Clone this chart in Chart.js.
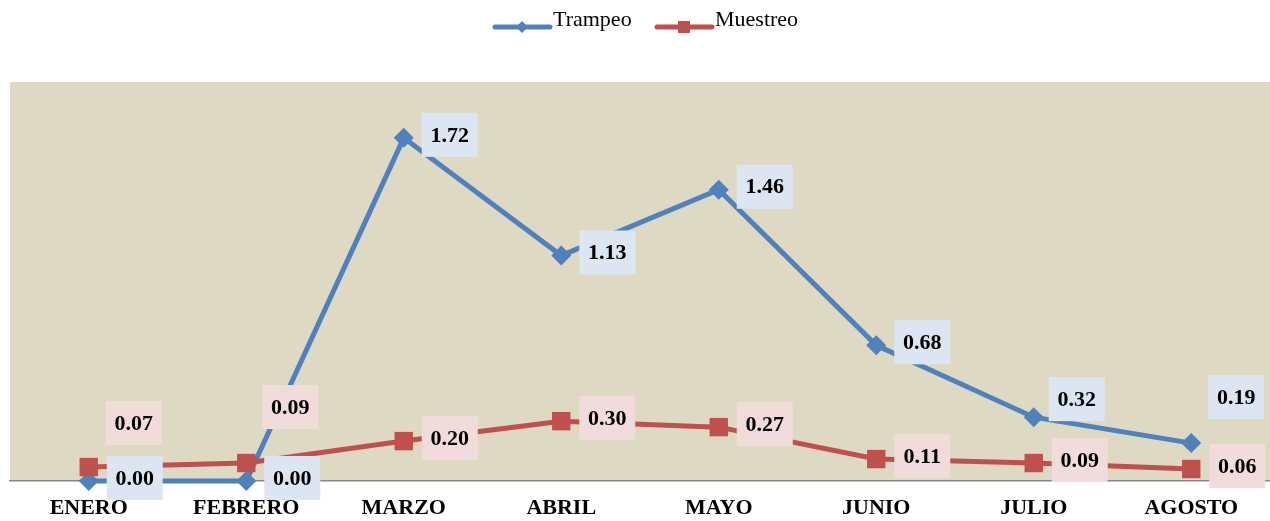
<!DOCTYPE html>
<html lang="es">
<head>
    <meta charset="UTF-8">
    <title>Trampeo vs Muestreo</title>
    <script src="https://cdn.jsdelivr.net/npm/chart.js"></script>
    <style>
        html, body { margin: 0; padding: 0; background: #fff; }
        .chart-box { width: 1270px; height: 521px; }
    </style>
</head>
<body>
    <div class="chart-box">
        <canvas id="lineChart"></canvas>
    </div>

    <script>
        const months = ['ENERO', 'FEBRERO', 'MARZO', 'ABRIL', 'MAYO', 'JUNIO', 'JULIO', 'AGOSTO'];
        const trampeo = [0.00, 0.00, 1.72, 1.13, 1.46, 0.68, 0.32, 0.19];
        const muestreo = [0.07, 0.09, 0.20, 0.30, 0.27, 0.11, 0.09, 0.06];

        const blue = '#4F81BD';
        const red = '#C0504D';
        const serif = '"Liberation Serif", "DejaVu Serif", serif';

        // label box nudges (dx, dy from the point) where the default spot is crowded
        const labelNudge = {
            0: { 6: [43, -18], 7: [45, -46] },
            1: { 0: [45, -44], 1: [44, -56] }
        };
        const labelBg = ['#DCE6F2', '#F2DCDB'];

        const areaBg = {
            id: 'areaBg',
            beforeDraw(chart) {
                const { ctx, chartArea: a } = chart;
                ctx.save();
                ctx.fillStyle = '#DDD9C3';
                ctx.fillRect(a.left, a.top, a.right - a.left, a.bottom - a.top);
                ctx.restore();
            }
        };

        const valueLabels = {
            id: 'valueLabels',
            afterDatasetsDraw(chart) {
                const ctx = chart.ctx;
                ctx.save();
                ctx.font = 'bold 22px ' + serif;
                ctx.textAlign = 'center';
                ctx.textBaseline = 'middle';
                chart.data.datasets.forEach((ds, di) => {
                    chart.getDatasetMeta(di).data.forEach((pt, i) => {
                        const n = (labelNudge[di] && labelNudge[di][i]) || [46, -3];
                        const cx = pt.x + n[0], cy = pt.y + n[1];
                        ctx.fillStyle = labelBg[di];
                        ctx.fillRect(cx - 28, cy - 22, 56, 44);
                        ctx.fillStyle = '#000';
                        ctx.fillText(ds.data[i].toFixed(2), cx, cy + 1);
                    });
                });
                ctx.restore();
            }
        };

        const lineLegend = {
            id: 'lineLegend',
            afterDraw(chart) {
                const ctx = chart.ctx;
                const items = [
                    { x: 495, label: 'Trampeo', color: blue, shape: 'diamond' },
                    { x: 657, label: 'Muestreo', color: red, shape: 'square' }
                ];
                ctx.save();
                ctx.font = '22px ' + serif;
                ctx.textBaseline = 'middle';
                items.forEach(it => {
                    const y = 27;
                    ctx.strokeStyle = it.color;
                    ctx.lineWidth = 5;
                    ctx.lineCap = 'round';
                    ctx.beginPath();
                    ctx.moveTo(it.x, y);
                    ctx.lineTo(it.x + 55, y);
                    ctx.stroke();
                    ctx.fillStyle = it.color;
                    const mx = it.x + 27;
                    if (it.shape === 'diamond') {
                        ctx.beginPath();
                        ctx.moveTo(mx, y - 6);
                        ctx.lineTo(mx + 6, y);
                        ctx.lineTo(mx, y + 6);
                        ctx.lineTo(mx - 6, y);
                        ctx.closePath();
                        ctx.fill();
                    } else {
                        ctx.fillRect(mx - 6, y - 6, 12, 12);
                    }
                    ctx.fillStyle = '#000';
                    ctx.fillText(it.label, it.x + 58, y - 7);
                });
                ctx.restore();
            }
        };

        new Chart(document.getElementById('lineChart'), {
            type: 'line',
            data: {
                labels: months,
                datasets: [
                    {
                        label: 'Trampeo',
                        data: trampeo,
                        borderColor: blue,
                        backgroundColor: blue,
                        borderWidth: 5,
                        pointStyle: 'rectRot',
                        pointRadius: 10,
                        pointBorderWidth: 0,
                        tension: 0,
                        clip: false,
                        order: 1
                    },
                    {
                        label: 'Muestreo',
                        data: muestreo,
                        borderColor: red,
                        backgroundColor: red,
                        borderWidth: 5,
                        pointStyle: 'rect',
                        pointRadius: 13,
                        pointBorderWidth: 0,
                        tension: 0,
                        clip: false,
                        order: 0
                    }
                ]
            },
            options: {
                responsive: true,
                maintainAspectRatio: false,
                animation: false,
                layout: {
                    autoPadding: false,
                    padding: { top: 82, left: 10, right: 0, bottom: 0 }
                },
                plugins: {
                    legend: { display: false },
                    tooltip: { enabled: false }
                },
                scales: {
                    x: {
                        offset: true,
                        grid: { display: false, drawTicks: false },
                        border: { color: '#868686', width: 1.5 },
                        ticks: {
                            padding: 14,
                            color: '#000',
                            font: { family: serif, size: 22, weight: 'bold' }
                        },
                        afterFit(scale) {
                            scale.height = 40;
                            scale.paddingLeft = 0;
                            scale.paddingRight = 0;
                        }
                    },
                    y: {
                        display: false,
                        min: 0,
                        max: 2.0
                    }
                }
            },
            plugins: [areaBg, valueLabels, lineLegend]
        });
    </script>
</body>
</html>
